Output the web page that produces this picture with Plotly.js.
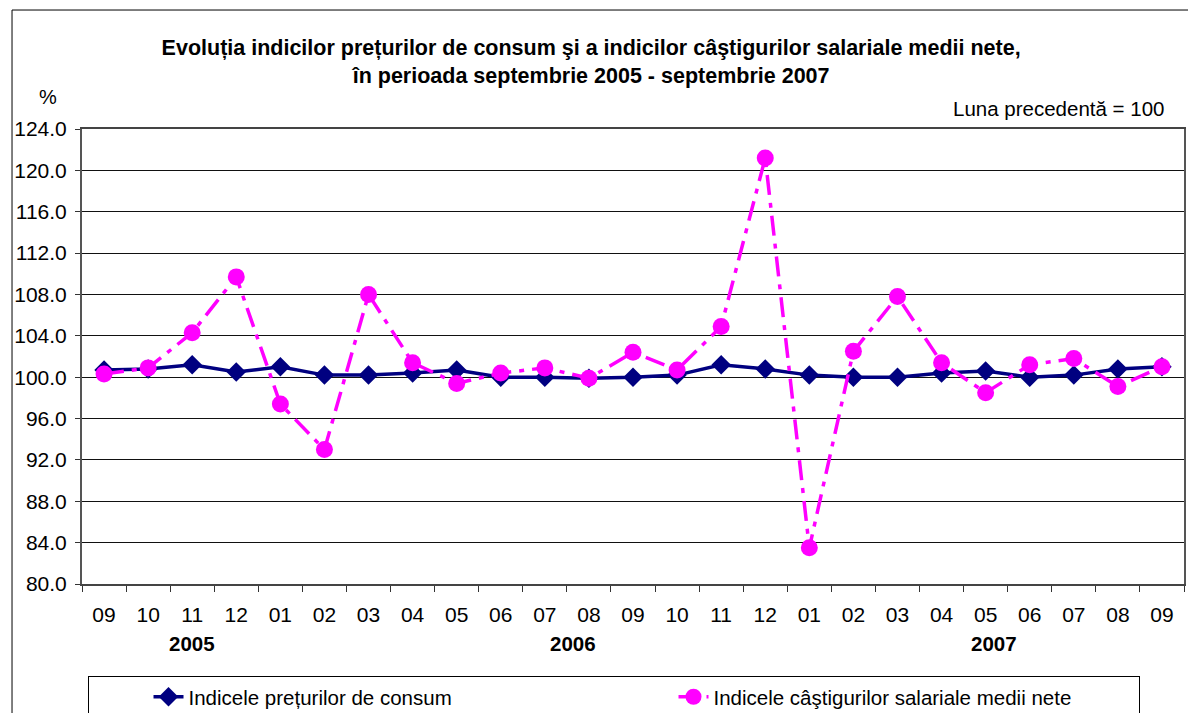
<!DOCTYPE html>
<html>
<head>
<meta charset="utf-8">
<script src="https://cdn.plot.ly/plotly-3.0.1.min.js"></script>
<style>html,body{margin:0;padding:0;background:#fff;}#chart{width:1188px;height:713px;}</style>
</head>
<body>
<div id="chart"></div>
<script>
// Categories (unique keys) and their month tick labels
const categories = ["2005-09","2005-10","2005-11","2005-12","2006-01","2006-02","2006-03","2006-04","2006-05","2006-06","2006-07","2006-08","2006-09","2006-10","2006-11","2006-12","2007-01","2007-02","2007-03","2007-04","2007-05","2007-06","2007-07","2007-08","2007-09"];
const monthLabels = ["09","10","11","12","01","02","03","04","05","06","07","08","09","10","11","12","01","02","03","04","05","06","07","08","09"];
// Indicele preturilor de consum (luna precedenta = 100)
const cpiValues = [100.7,100.8,101.2,100.5,101.0,100.2,100.2,100.4,100.7,100.0,100.0,99.9,100.0,100.2,101.2,100.8,100.2,100.0,100.0,100.4,100.6,100.0,100.2,100.8,101.0];
// Indicele castigurilor salariale medii nete
const wageValues = [100.3,100.9,104.3,109.7,97.4,93.0,108.0,101.4,99.4,100.4,100.9,99.9,102.4,100.7,104.9,121.2,83.5,102.5,107.8,101.4,98.5,101.2,101.8,99.1,101.0];
const yearLabels = ["2005","2006","2007"];
const yearPositions = [2, 10.65, 20.2];

const FONT = "Liberation Sans, Arial, sans-serif";

const traces = [
  {
    type: "scatter", mode: "lines+markers", name: "Indicele prețurilor de consum",
    x: categories, y: cpiValues,
    line: {color: "#000080", width: 3.5},
    marker: {symbol: "diamond", size: 15, color: "#000080"}
  },
  {
    type: "scatter", mode: "lines+markers", name: "Indicele câştigurilor salariale medii nete",
    x: categories, y: wageValues,
    line: {color: "#FF00FF", width: 3.5, dash: "20px,8px,5px,8px"},
    marker: {symbol: "circle", size: 17, color: "#FF00FF"}
  }
];

const annotations = [
  {text: "%", xref: "paper", yref: "paper", x: -0.0304, y: 1.070, showarrow: false, xanchor: "center", yanchor: "middle", font: {family: FONT, size: 20, color: "#000"}},
  {text: "Luna precedentă = 100", xref: "paper", yref: "paper", x: 0.9837, y: 1.046, showarrow: false, xanchor: "right", yanchor: "middle", font: {family: FONT, size: 20.5, color: "#000"}}
];
yearLabels.forEach((t, i) => annotations.push({
  text: "<b>" + t + "</b>", xref: "x", yref: "paper", x: yearPositions[i], y: -0.13,
  showarrow: false, xanchor: "center", yanchor: "middle", font: {family: FONT, size: 20.5, color: "#000"}
}));

const layout = {
  width: 1188, height: 713,
  margin: {l: 81.5, r: 4, t: 129, b: 129, autoexpand: false},
  paper_bgcolor: "#fff", plot_bgcolor: "#fff",
  font: {family: FONT, size: 20, color: "#000"},
  title: {
    text: "<b>Evoluția indicilor prețurilor de consum şi a indicilor câştigurilor salariale medii nete,<br>în perioada septembrie 2005 - septembrie 2007</b>",
    x: 0.462, xref: "paper", xanchor: "center", y: 0.923, yref: "container", yanchor: "middle",
    font: {family: FONT, size: 21.5, color: "#000"}
  },
  xaxis: {
    type: "category", categoryorder: "array", categoryarray: categories,
    range: [-0.5, 24.5], autorange: false,
    tickvals: categories, ticktext: monthLabels,
    tickson: "boundaries", ticks: "outside", ticklen: 6, tickcolor: "#333", tickwidth: 1,
    showgrid: false, showline: true, linecolor: "#444", linewidth: 2, mirror: true,
    ticklabelstandoff: 11, tickfont: {family: FONT, size: 21, color: "#000"},
    zeroline: false, fixedrange: true
  },
  yaxis: {
    range: [80, 124], dtick: 4, tick0: 80, tickformat: ".1f",
    ticks: "outside", ticklen: 5, tickcolor: "#333",
    showgrid: true, gridcolor: "#111", gridwidth: 1,
    showline: true, linecolor: "#555", linewidth: 2, mirror: true,
    ticklabelstandoff: 4, tickfont: {family: FONT, size: 21, color: "#000"},
    zeroline: false, fixedrange: true
  },
  showlegend: true,
  legend: {
    orientation: "h", xref: "paper", yref: "paper", x: 0.005, xanchor: "left", y: -0.202, yanchor: "top",
    bordercolor: "#000", borderwidth: 1, bgcolor: "#fff",
    entrywidth: 420, indentation: 60,
    font: {family: FONT, size: 20.5, color: "#000"}
  },
  shapes: [
    {type: "rect", xref: "paper", yref: "paper", x0: -0.0635, x1: 1.2, y0: -0.5, y1: 1.2615, line: {color: "#000", width: 1}, fillcolor: "rgba(0,0,0,0)", layer: "below"}
  ],
  annotations: annotations
};

Plotly.newPlot("chart", traces, layout, {displayModeBar: false, staticPlot: true});
</script>
</body>
</html>
